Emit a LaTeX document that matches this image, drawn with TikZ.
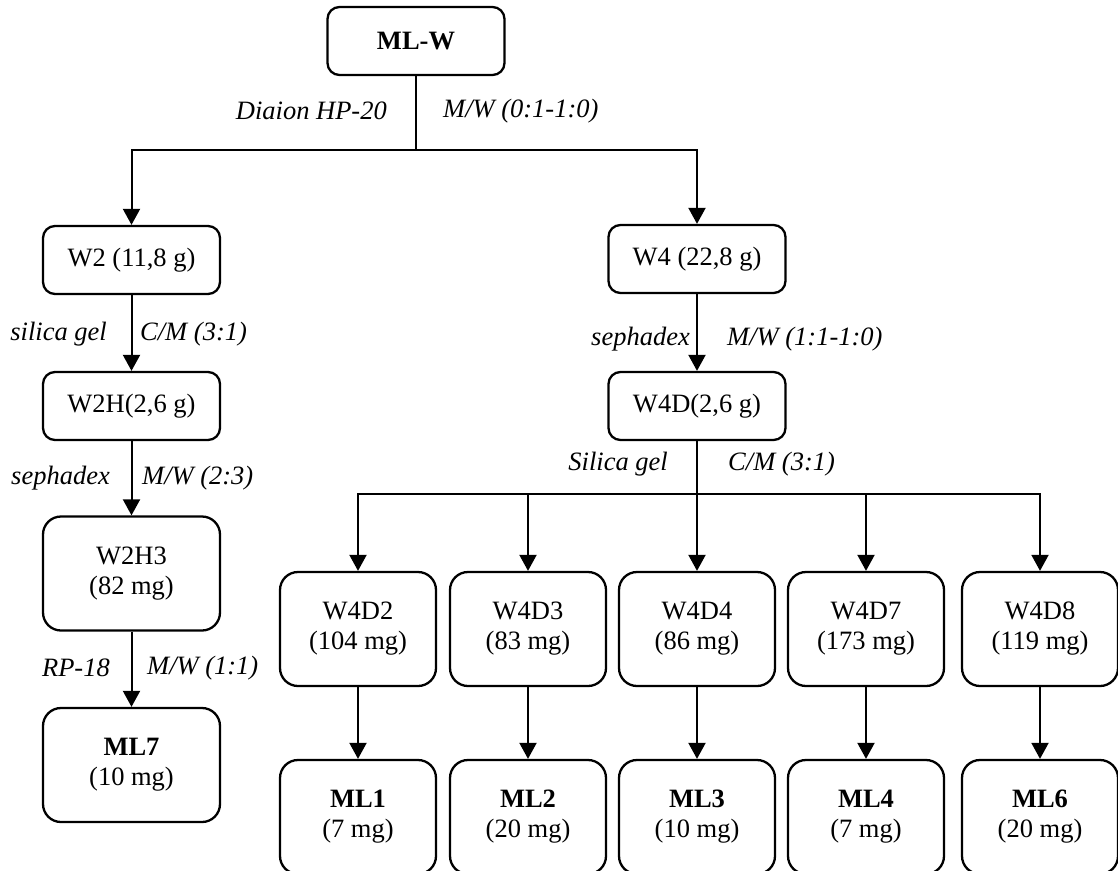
\documentclass[tikz,border=0pt]{standalone}
\usepackage{fontspec}
\setmainfont{Liberation Serif}
\usetikzlibrary{arrows.meta}
\begin{document}
\begin{tikzpicture}[x=1pt,y=-1pt,
  box/.style={draw, line width=2.3pt, rounded corners=12pt, inner sep=0pt, align=center,
    font=\fontsize{26.5}{30}\selectfont, minimum height=68pt, minimum width=177pt},
  tallbox/.style={box, rounded corners=18pt, minimum height=114pt},
  colbox/.style={tallbox, minimum width=156pt},
  lbl/.style={font=\fontsize{26.5}{30}\selectfont\itshape, inner sep=0pt},
  conn/.style={line width=2pt},
  arr/.style={conn, -{Triangle[width=17pt,length=16pt]}}]
\useasboundingbox (0,0) rectangle (1118,870);
\clip (0,0) rectangle (1118,870);

\node[box] (mlw) at (416,41) {\textbf{ML-W}};
\node[box] (w2) at (131.5,260) {W2 (11,8 g)};
\node[box] (w4) at (697,259) {W4 (22,8 g)};
\node[box] (w2h) at (131.5,406) {W2H(2,6 g)};
\node[box] (w4d) at (697,406) {W4D(2,6 g)};
\node[tallbox] (w2h3) at (131.5,573.5) {W2H3\\(82 mg)};
\node[tallbox] (ml7) at (131.5,765) {\textbf{ML7}\\(10 mg)};

\node[colbox] (w4d2) at (358,629) {W4D2\\(104 mg)};
\node[colbox] (w4d3) at (528,629) {W4D3\\(83 mg)};
\node[colbox] (w4d4) at (697,629) {W4D4\\(86 mg)};
\node[colbox] (w4d7) at (866,629) {W4D7\\(173 mg)};
\node[colbox] (w4d8) at (1040,629) {W4D8\\(119 mg)};

\node[colbox] (ml1) at (358,817) {\textbf{ML1}\\(7 mg)};
\node[colbox] (ml2) at (528,817) {\textbf{ML2}\\(20 mg)};
\node[colbox] (ml3) at (697,817) {\textbf{ML3}\\(10 mg)};
\node[colbox] (ml4) at (866,817) {\textbf{ML4}\\(7 mg)};
\node[colbox] (ml6) at (1040,817) {\textbf{ML6}\\(20 mg)};

% connectors
\coordinate (j1) at (416,150);
\draw[conn] (mlw.south) -- (j1);
\draw[arr] (j1) -| (w2.north);
\draw[arr] (j1) -| (w4.north);
\draw[arr] (w2.south) -- (w2h.north);
\draw[arr] (w2h.south) -- (w2h3.north);
\draw[arr] (w2h3.south) -- (ml7.north);
\draw[arr] (w4.south) -- (w4d.north);
\coordinate (j2) at (697,494);
\draw[arr] (w4d.south) -- (w4d4.north);
\draw[arr] (j2) -| (w4d2.north);
\draw[arr] (j2) -| (w4d3.north);
\draw[arr] (j2) -| (w4d7.north);
\draw[arr] (j2) -| (w4d8.north);
\draw[arr] (w4d2.south) -- (ml1.north);
\draw[arr] (w4d3.south) -- (ml2.north);
\draw[arr] (w4d4.south) -- (ml3.north);
\draw[arr] (w4d7.south) -- (ml4.north);
\draw[arr] (w4d8.south) -- (ml6.north);

% labels
\node[lbl, anchor=east] (l1a) at (387,111) {Diaion HP-20};
\node[lbl, anchor=west] (l1b) at (443,111) {M/W (0:1-1:0)};
\node[lbl, anchor=east] (l2a) at (107,334) {silica gel};
\node[lbl, anchor=west] (l2b) at (140,334) {C/M (3:1)};
\node[lbl, anchor=east] (l3a) at (110,478) {sephadex};
\node[lbl, anchor=west] (l3b) at (142,478) {M/W (2:3)};
\node[lbl, anchor=east] (l4a) at (110,668) {RP-18};
\node[lbl, anchor=west] (l4b) at (147,668) {M/W (1:1)};
\node[lbl, anchor=east] (l5a) at (690,339) {sephadex};
\node[lbl, anchor=west] (l5b) at (727,339) {M/W (1:1-1:0)};
\node[lbl, anchor=east] (l6a) at (668,464) {Silica gel};
\node[lbl, anchor=west] (l6b) at (728,464) {C/M (3:1)};
\end{tikzpicture}
\end{document}
